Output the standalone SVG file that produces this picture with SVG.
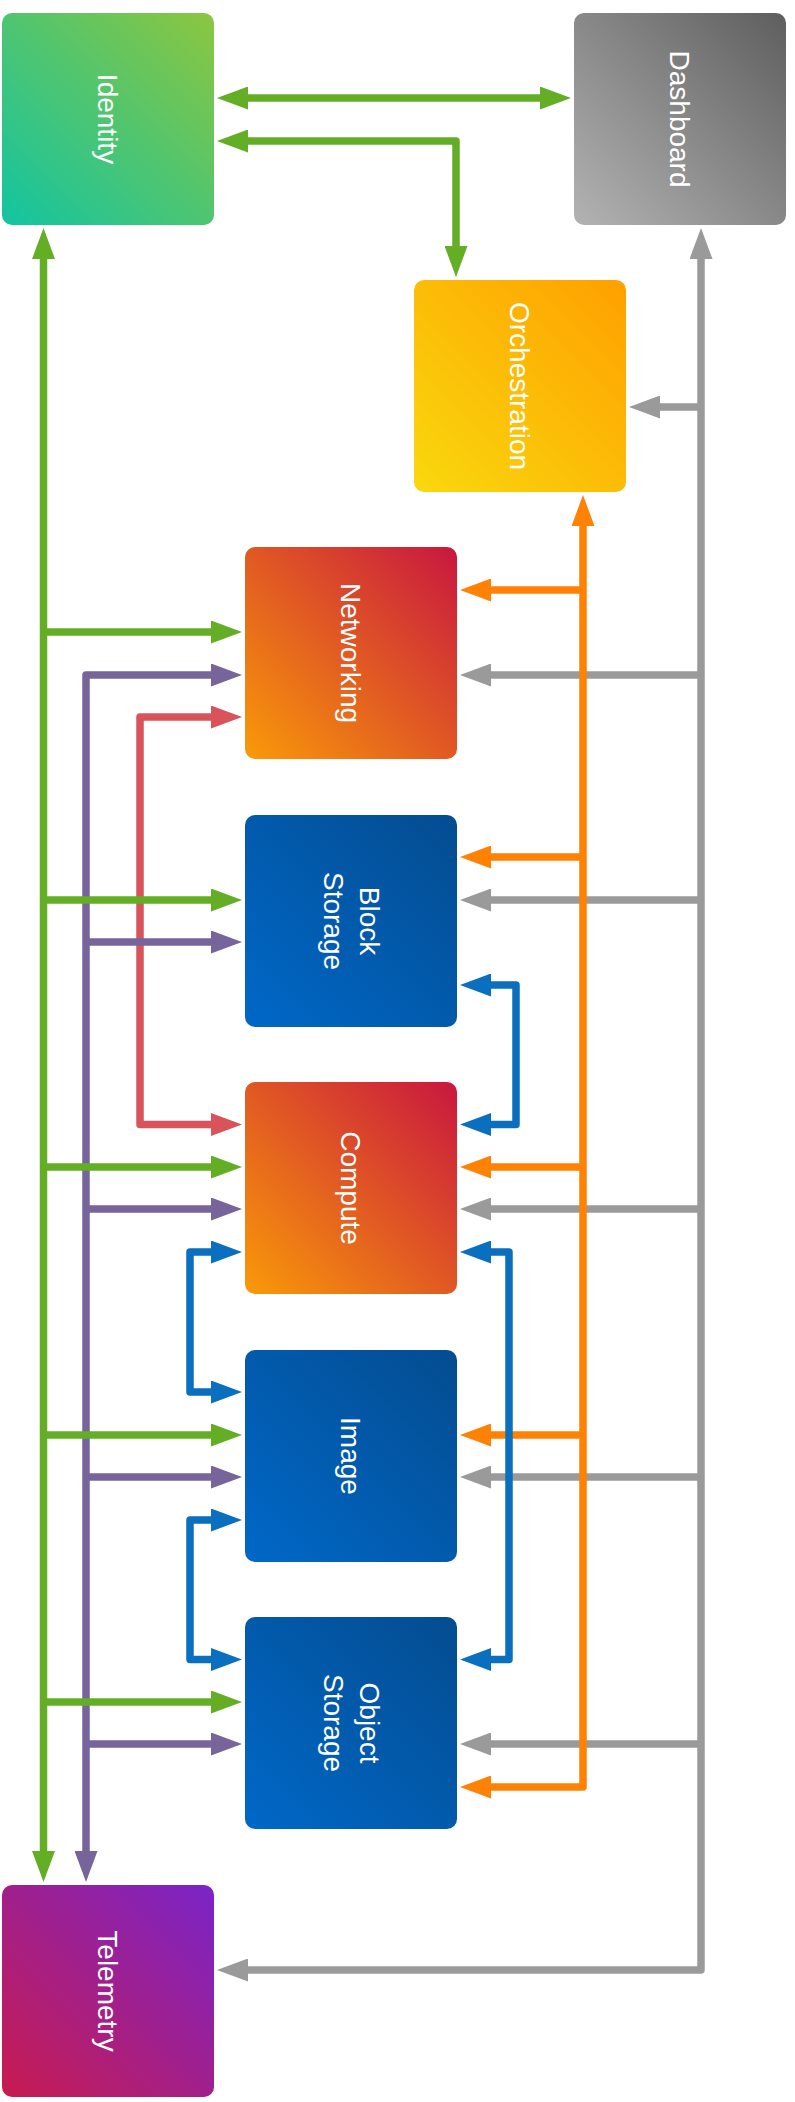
<svg xmlns="http://www.w3.org/2000/svg" width="795" height="2102" viewBox="0 0 795 2102">
<style>
.box{stroke:none}
.lbl{font-family:"Liberation Sans",Arial,Helvetica,sans-serif;font-size:28px;fill:#ffffff;text-anchor:middle}
.c{fill:none;stroke-width:7.5;stroke-linejoin:round;stroke-linecap:butt}
.g{stroke:#63AE25}
.p{stroke:#76649A}
.r{stroke:#D9535B}
.b{stroke:#0B6FBF}
.o{stroke:#FF8205}
.y{stroke:#9A9A9A}
</style>
<defs>
<linearGradient id="gId" x1="0" y1="1" x2="1" y2="0"><stop offset="0" stop-color="#12C4A2"/><stop offset="1" stop-color="#8CC63F"/></linearGradient>
<linearGradient id="gDash" x1="0" y1="1" x2="1" y2="0"><stop offset="0" stop-color="#B3B3B3"/><stop offset="1" stop-color="#5E5E5E"/></linearGradient>
<linearGradient id="gOrch" x1="0" y1="1" x2="1" y2="0"><stop offset="0" stop-color="#F9D80E"/><stop offset="1" stop-color="#FFA000"/></linearGradient>
<linearGradient id="gRed" x1="0" y1="1" x2="1" y2="0"><stop offset="0" stop-color="#F99A08"/><stop offset="1" stop-color="#C8173F"/></linearGradient>
<linearGradient id="gBlue" x1="0" y1="1" x2="1" y2="0"><stop offset="0" stop-color="#0068C8"/><stop offset="1" stop-color="#044C90"/></linearGradient>
<linearGradient id="gTel" x1="0" y1="1" x2="1" y2="0"><stop offset="0" stop-color="#C81B50"/><stop offset="1" stop-color="#7A24C8"/></linearGradient>
<marker id="mG" viewBox="0 0 31 23" refX="10" refY="11.5" markerWidth="31" markerHeight="23" markerUnits="userSpaceOnUse" orient="auto-start-reverse"><path d="M0,0 L31,11.5 L0,23 z" fill="#63AE25"/></marker>
<marker id="mP" viewBox="0 0 31 23" refX="10" refY="11.5" markerWidth="31" markerHeight="23" markerUnits="userSpaceOnUse" orient="auto-start-reverse"><path d="M0,0 L31,11.5 L0,23 z" fill="#76649A"/></marker>
<marker id="mR" viewBox="0 0 31 23" refX="10" refY="11.5" markerWidth="31" markerHeight="23" markerUnits="userSpaceOnUse" orient="auto-start-reverse"><path d="M0,0 L31,11.5 L0,23 z" fill="#D9535B"/></marker>
<marker id="mB" viewBox="0 0 31 23" refX="10" refY="11.5" markerWidth="31" markerHeight="23" markerUnits="userSpaceOnUse" orient="auto-start-reverse"><path d="M0,0 L31,11.5 L0,23 z" fill="#0B6FBF"/></marker>
<marker id="mO" viewBox="0 0 31 23" refX="10" refY="11.5" markerWidth="31" markerHeight="23" markerUnits="userSpaceOnUse" orient="auto-start-reverse"><path d="M0,0 L31,11.5 L0,23 z" fill="#FF8205"/></marker>
<marker id="mY" viewBox="0 0 31 23" refX="10" refY="11.5" markerWidth="31" markerHeight="23" markerUnits="userSpaceOnUse" orient="auto-start-reverse"><path d="M0,0 L31,11.5 L0,23 z" fill="#9A9A9A"/></marker>
</defs>
<rect width="795" height="2102" fill="#ffffff"/>

<g id="connectors">
<g id="gray">
<path class="c y" d="M701,249 V1970 H238" marker-start="url(#mY)" marker-end="url(#mY)"/>
<path class="c y" d="M701,407 H650" marker-end="url(#mY)"/>
<path class="c y" d="M701,675 H481" marker-end="url(#mY)"/>
<path class="c y" d="M701,900 H481" marker-end="url(#mY)"/>
<path class="c y" d="M701,1209 H481" marker-end="url(#mY)"/>
<path class="c y" d="M701,1477 H481" marker-end="url(#mY)"/>
<path class="c y" d="M701,1744 H481" marker-end="url(#mY)"/>
</g>
<g id="orange">
<path class="c o" d="M583,516 V1787 H481" marker-start="url(#mO)" marker-end="url(#mO)"/>
<path class="c o" d="M583,590 H481" marker-end="url(#mO)"/>
<path class="c o" d="M583,857 H481" marker-end="url(#mO)"/>
<path class="c o" d="M583,1167 H481" marker-end="url(#mO)"/>
<path class="c o" d="M583,1435 H481" marker-end="url(#mO)"/>
</g>
<g id="blue">
<path class="c b" d="M481,985 H516 V1124.5 H481" marker-start="url(#mB)" marker-end="url(#mB)"/>
<path class="c b" d="M481,1252 H509 V1659.5 H481" marker-start="url(#mB)" marker-end="url(#mB)"/>
<path class="c b" d="M221,1252 H190 V1392 H221" marker-start="url(#mB)" marker-end="url(#mB)"/>
<path class="c b" d="M221,1520 H190 V1659.5 H221" marker-start="url(#mB)" marker-end="url(#mB)"/>
</g>
<g id="red">
<path class="c r" d="M221,717 H140 V1124.5 H221" marker-start="url(#mR)" marker-end="url(#mR)"/>
</g>
<g id="purple">
<path class="c p" d="M221,675 H86 V1861" marker-start="url(#mP)" marker-end="url(#mP)"/>
<path class="c p" d="M86,942 H221" marker-end="url(#mP)"/>
<path class="c p" d="M86,1209 H221" marker-end="url(#mP)"/>
<path class="c p" d="M86,1477 H221" marker-end="url(#mP)"/>
<path class="c p" d="M86,1744 H221" marker-end="url(#mP)"/>
</g>
<g id="green">
<path class="c g" d="M238,98 H550" marker-start="url(#mG)" marker-end="url(#mG)"/>
<path class="c g" d="M238,141 H456 V256" marker-start="url(#mG)" marker-end="url(#mG)"/>
<path class="c g" d="M43.5,249 V1861" marker-start="url(#mG)" marker-end="url(#mG)"/>
<path class="c g" d="M43.5,632 H221" marker-end="url(#mG)"/>
<path class="c g" d="M43.5,900 H221" marker-end="url(#mG)"/>
<path class="c g" d="M43.5,1167 H221" marker-end="url(#mG)"/>
<path class="c g" d="M43.5,1435 H221" marker-end="url(#mG)"/>
<path class="c g" d="M43.5,1702 H221" marker-end="url(#mG)"/>
</g>
</g>

<g id="identity">
<rect class="box" x="2" y="13" width="212" height="212" rx="10" fill="url(#gId)"/>
<text class="lbl" transform="translate(108,119) rotate(90)" y="10">Identity</text>
</g>
<g id="dashboard">
<rect class="box" x="574" y="13" width="212" height="212" rx="10" fill="url(#gDash)"/>
<text class="lbl" transform="translate(680,119) rotate(90)" y="10">Dashboard</text>
</g>
<g id="orchestration">
<rect class="box" x="414" y="280" width="212" height="212" rx="10" fill="url(#gOrch)"/>
<text class="lbl" transform="translate(520,386) rotate(90)" y="10">Orchestration</text>
</g>
<g id="networking">
<rect class="box" x="245" y="547" width="212" height="212" rx="10" fill="url(#gRed)"/>
<text class="lbl" transform="translate(351,653) rotate(90)" y="10">Networking</text>
</g>
<g id="block-storage">
<rect class="box" x="245" y="815" width="212" height="212" rx="10" fill="url(#gBlue)"/>
<text class="lbl" transform="translate(351,921) rotate(90)"><tspan x="0" y="-9">Block</tspan><tspan x="0" y="27">Storage</tspan></text>
</g>
<g id="compute">
<rect class="box" x="245" y="1082" width="212" height="212" rx="10" fill="url(#gRed)"/>
<text class="lbl" transform="translate(351,1188) rotate(90)" y="10">Compute</text>
</g>
<g id="image">
<rect class="box" x="245" y="1350" width="212" height="212" rx="10" fill="url(#gBlue)"/>
<text class="lbl" transform="translate(351,1456) rotate(90)" y="10">Image</text>
</g>
<g id="object-storage">
<rect class="box" x="245" y="1617" width="212" height="212" rx="10" fill="url(#gBlue)"/>
<text class="lbl" transform="translate(351,1723) rotate(90)"><tspan x="0" y="-9">Object</tspan><tspan x="0" y="27">Storage</tspan></text>
</g>
<g id="telemetry">
<rect class="box" x="2" y="1885" width="212" height="212" rx="10" fill="url(#gTel)"/>
<text class="lbl" transform="translate(108,1991) rotate(90)" y="10">Telemetry</text>
</g>
</svg>
